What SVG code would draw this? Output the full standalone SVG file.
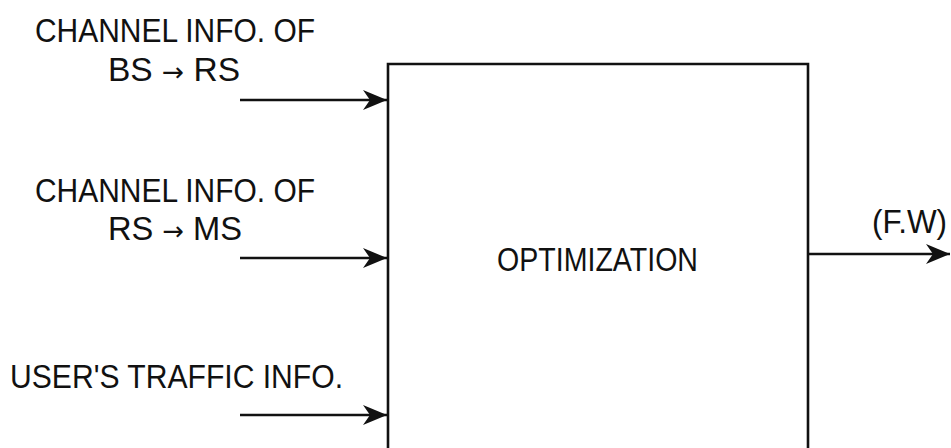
<svg xmlns="http://www.w3.org/2000/svg" width="951" height="448" viewBox="0 0 951 448">
<style>
.t{font-family:"Liberation Sans",Arial,sans-serif;font-size:33px;fill:#111}
.ar{font-family:"DejaVu Sans",sans-serif;font-size:26px}
.ln{stroke:#111;stroke-width:2.6;fill:none}
</style>
<defs>
<marker id="ah" markerUnits="userSpaceOnUse" markerWidth="26" markerHeight="22" refX="24" refY="11" orient="auto">
<path d="M0,1 L24,11 L0,21 L7,11 Z" fill="#111"/>
</marker>
</defs>
<rect width="951" height="448" fill="#fff"/>
<g id="labels">
<text class="t" x="35" y="42" textLength="280" lengthAdjust="spacingAndGlyphs">CHANNEL INFO. OF</text>
<text class="t" x="108" y="81" textLength="132" lengthAdjust="spacingAndGlyphs">BS <tspan class="ar">→</tspan> RS</text>
<text class="t" x="35" y="202" textLength="280" lengthAdjust="spacingAndGlyphs">CHANNEL INFO. OF</text>
<text class="t" x="108" y="240" textLength="134" lengthAdjust="spacingAndGlyphs">RS <tspan class="ar">→</tspan> MS</text>
<text class="t" x="10" y="388" textLength="333" lengthAdjust="spacingAndGlyphs">USER'S TRAFFIC INFO.</text>
<text class="t" x="872" y="233" textLength="75" lengthAdjust="spacingAndGlyphs">(F.W)</text>
</g>
<g id="optimization">
<path class="ln" d="M388,450 V64 H808 V450"/>
<text class="t" x="497" y="271" font-size="31" textLength="201" lengthAdjust="spacingAndGlyphs">OPTIMIZATION</text>
</g>
<g id="connectors">
<line class="ln" x1="240" y1="100" x2="387" y2="100" marker-end="url(#ah)"/>
<line class="ln" x1="240" y1="258" x2="387" y2="258" marker-end="url(#ah)"/>
<line class="ln" x1="240" y1="415" x2="387" y2="415" marker-end="url(#ah)"/>
<line class="ln" x1="808" y1="254" x2="950" y2="254" marker-end="url(#ah)"/>
</g>
</svg>
